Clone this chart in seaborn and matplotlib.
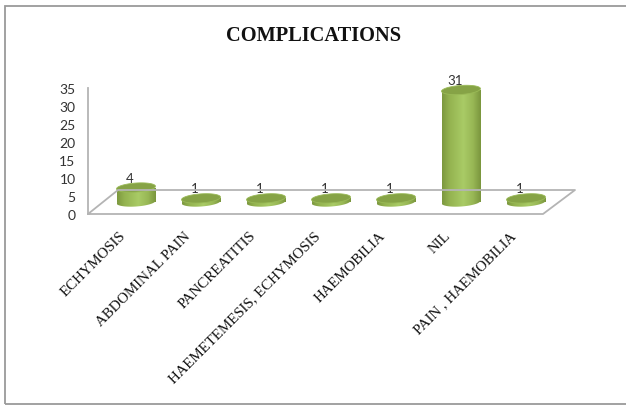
import numpy as np
import pandas as pd
import matplotlib
matplotlib.use("Agg")
import matplotlib.pyplot as plt
from matplotlib.colors import LinearSegmentedColormap
from matplotlib.lines import Line2D
from matplotlib.patches import Polygon, Rectangle
from matplotlib.transforms import ScaledTranslation
import seaborn as sns

categories = ["ECHYMOSIS", "ABDOMINAL PAIN", "PANCREATITIS",
              "HAEMETEMESIS, ECHYMOSIS", "HAEMOBILIA", "NIL", "PAIN , HAEMOBILIA"]
patients = [4, 1, 1, 1, 1, 31, 1]
value_ticks = [0, 5, 10, 15, 20, 25, 30, 35]

W, H = 626, 406
sns.set_theme(style="white")
fig = plt.figure(figsize=(W / 100, H / 100), dpi=100, facecolor="white")


def px_axes(left, top, right, bottom):
    return fig.add_axes([left / W, 1 - bottom / H, (right - left) / W, (bottom - top) / H])


def px_line(xs, ys, color="#b4b4b4", lw=1.3):
    fig.add_artist(Line2D([x / W for x in xs], [1 - y / H for y in ys],
                          transform=fig.transFigure, color=color, lw=lw))


# Outer border of the chart area, open on the right
fig.add_artist(Rectangle((5 / W, 1 - 405 / H), 660 / W, 398 / H, transform=fig.transFigure,
                         fill=False, ec="#9a9a9a", lw=1.3))

# Value axis sits on the front edge of the floor
frame = px_axes(88, 88.5, 543, 215)
frame.set_xlim(0, 1)
frame.set_ylim(0, 35)
frame.patch.set_alpha(0)
frame.set_xticks([])
frame.set_yticks(value_ticks)
frame.tick_params(axis="y", length=0, pad=9, labelsize=10, labelcolor="#333333")
for lab in frame.get_yticklabels():
    lab.set_fontfamily("Lato")
for side, sp in frame.spines.items():
    sp.set_visible(side == "left")
    sp.set_color("#b4b4b4")
    sp.set_linewidth(1.3)

# Floor of the 3-D box
px_line([88, 543, 575, 118, 88], [215, 215, 191, 191, 215])

# Bars stand in the middle of the floor; the lower limit leaves room for the rounded base
PX_PER_UNIT = 126.5 / 35
PX_PER_CAT = 65
BASE_PX = 10
bars = px_axes(103.5, 76.5, 558.5, 203 + BASE_PX)
bars.patch.set_alpha(0)
table = pd.DataFrame({"complication": categories, "patients": patients})
sns.barplot(data=table, x="complication", y="patients", ax=bars,
            width=39 / PX_PER_CAT, color="#9bbb59", saturation=1, linewidth=0)
bars.set_xlabel("")
bars.set_ylabel("")
bars.set_yticks([])
bars.spines[:].set_visible(False)


def disc(center_x, value, rx=19.5, ry=4.5, tilt_deg=4.0):
    """Outline of a slightly tilted ellipse, sized in pixels, returned in data units."""
    t = np.linspace(0, 2 * np.pi, 90)
    phi = np.deg2rad(tilt_deg)
    dx = rx * np.cos(t) * np.cos(phi) - ry * np.sin(t) * np.sin(phi)
    dy = rx * np.cos(t) * np.sin(phi) + ry * np.sin(t) * np.cos(phi)
    return np.column_stack([center_x + dx / PX_PER_CAT, value + dy / PX_PER_UNIT])


# Cylinder shading across each bar, plus its rounded base and lit top
shade = LinearSegmentedColormap.from_list(
    "cyl", [(0, "#7c983f"), (0.18, "#93b24f"), (0.55, "#a9cb66"),
            (0.8, "#98b755"), (1, "#7a963d")])
gradient = np.linspace(0, 1, 128)[None, :]
half = 39 / PX_PER_CAT / 2
for i, (patch, v) in enumerate(zip(bars.patches, patients)):
    im = bars.imshow(gradient, cmap=shade, aspect="auto", zorder=2.5,
                     extent=(i - half, i + half, 0, v))
    im.set_clip_path(patch)
    base = Polygon(disc(i, 0), fc="none", ec="none")
    bars.add_patch(base)
    body = bars.imshow(gradient, cmap=shade, aspect="auto", zorder=2.4,
                       extent=(i - half, i + half, -BASE_PX / PX_PER_UNIT, 0))
    body.set_clip_path(base)
    bars.add_patch(Polygon(disc(i, v), fc="#86a346", ec="#9aba57", lw=0.6, zorder=3))
    bars.text(i - 0.09, v + 4 / PX_PER_UNIT, str(v), ha="center", va="bottom", fontsize=9.5,
              family="Lato", color="#333333", zorder=4)
bars.set_xlim(-0.5, 6.5)
bars.set_ylim(-BASE_PX / PX_PER_UNIT, 35)

# Slanted category labels end just left of each bar centre
bars.tick_params(axis="x", length=0, pad=12)
bars.set_xticks(range(len(categories)))
bars.set_xticklabels(categories, rotation=45, ha="right", rotation_mode="anchor",
                     fontsize=10.7, family="Liberation Serif", color="#111111")
nudge = ScaledTranslation(-17 / 100, 0, fig.dpi_scale_trans)
for lab in bars.get_xticklabels():
    lab.set_transform(lab.get_transform() + nudge)

fig.text(314 / W, 1 - 36 / H, "COMPLICATIONS", ha="center", va="center", fontsize=14.7,
         fontweight="bold", family="Liberation Serif", color="#111111")

fig.savefig("out.png", dpi=100, facecolor="white")
